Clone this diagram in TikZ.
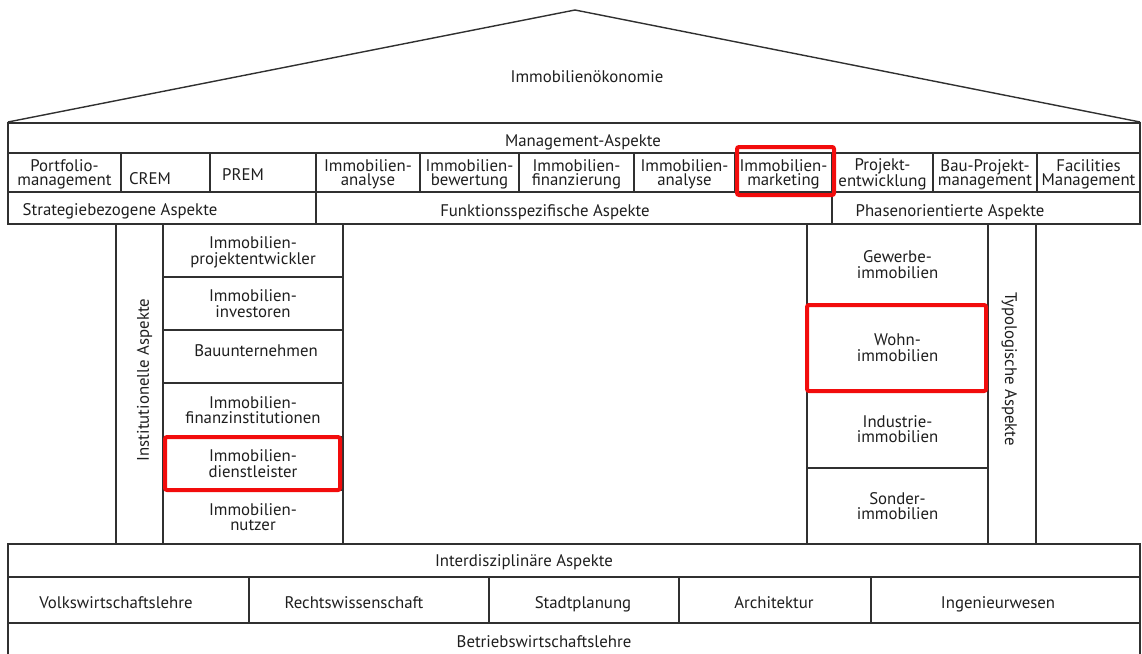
\documentclass[tikz,border=0pt]{standalone}
\usepackage{fontspec}
\setmainfont{PT Sans}
\definecolor{lc}{HTML}{303030}
\definecolor{tc}{HTML}{1E1E1E}
\definecolor{hlred}{HTML}{F20C0C}
\newcommand\fs{\fontsize{16.8}{15.8}\selectfont}
\newcommand\fst{\fontsize{16.8}{14.6}\selectfont}
\newcommand\boxat[7][cellbx]{\node[#1, minimum width={(#5-#3)*1pt}, minimum height={(#6-#4)*1pt}] (#2) at ({(#3+#5)/2},{(#4+#6)/2}) {#7};}
\begin{document}
\begin{tikzpicture}[x=1pt,y=-1pt,
  ln/.style={draw=lc, line width=1.4pt},
  cellbx/.style={ln, inner sep=0pt, outer sep=0pt, align=center, text=tc, font=\fs, text depth=0pt},
  topcell/.style={cellbx, font=\fst},
  txt/.style={inner sep=0pt, align=center, text=tc, font=\fs, text depth=0pt},
  hl/.style={draw=hlred, line width=4pt, rounded corners=2pt, inner sep=0pt, outer sep=0pt}]
\useasboundingbox (0,0) rectangle (1142,653);
% roof
\coordinate (rl) at (8,122);
\coordinate (ra) at (575,10);
\coordinate (rr) at (1140,122);
\draw[ln, line join=miter] (rl) -- (ra) -- (rr);
\node[txt] (roof) at (587,77) {Immobilienökonomie};
% management band
\boxat{mgmt}{8}{123}{1140}{153}{}
\node[txt] (mgmtT) at (583,141) {Management-Aspekte};
\boxat[topcell]{c1}{8}{153}{121}{192}{Portfolio-\\management}
\boxat{c2}{121}{153}{210}{192}{}
\node[txt] (c2T) at (150,179) {CREM};
\boxat{c3}{210}{153}{316}{192}{}
\node[txt] (c3T) at (243,175) {PREM};
\boxat[topcell]{c4}{316}{153}{420}{192}{Immobilien-\\analyse}
\boxat[topcell]{c5}{420}{153}{519}{192}{Immobilien-\\bewertung}
\boxat[topcell]{c6}{519}{153}{634}{192}{Immobilien-\\finanzierung}
\boxat[topcell]{c7}{634}{153}{735}{192}{Immobilien-\\analyse}
\boxat[topcell]{c8}{735}{153}{832}{192}{Immobilien-\\marketing}
\boxat[topcell]{c9}{832}{153}{933}{192}{Projekt-\\entwicklung}
\boxat[topcell]{c10}{933}{153}{1037}{192}{Bau-Projekt-\\management}
\boxat[topcell]{c11}{1037}{153}{1140}{192}{Facilities\\Management}
% aspect row
\boxat{a1}{8}{192}{316}{224}{}
\node[txt] (a1T) at (120,210) {Strategiebezogene Aspekte};
\boxat{a2}{316}{192}{832}{224}{}
\node[txt] (a2T) at (545,211) {Funktionsspezifische Aspekte};
\boxat{a3}{832}{192}{1140}{224}{}
\node[txt] (a3T) at (950,211) {Phasenorientierte Aspekte};
% left pillar
\boxat{ip}{116}{224}{163}{544}{}
\node[txt, rotate=90] (ipT) at (143,380) {Institutionelle Aspekte};
\boxat{l1}{163}{224}{343}{277}{Immobilien-\\projektentwickler}
\boxat{l2}{163}{277}{343}{330}{Immobilien-\\investoren}
\boxat{l3}{163}{330}{343}{383}{}
\node[txt] (l3T) at (256,351) {Bauunternehmen};
\boxat{l4}{163}{383}{343}{437}{Immobilien-\\finanzinstitutionen}
\boxat{l5}{163}{437}{343}{490}{Immobilien-\\dienstleister}
\boxat{l6}{163}{490}{343}{544}{Immobilien-\\nutzer}
% right pillar
\boxat{r1}{807}{224}{988}{305}{Gewerbe-\\immobilien}
\boxat{r2}{807}{305}{988}{390}{Wohn-\\immobilien}
\boxat{r3}{807}{390}{988}{468}{Industrie-\\immobilien}
\boxat{r4}{807}{468}{988}{544}{Sonder-\\immobilien}
\boxat{tp}{988}{224}{1036}{544}{}
\node[txt, rotate=-90] (tpT) at (1011,369) {Typologische Aspekte};
% bottom
\boxat{inter}{8}{544}{1140}{577}{}
\node[txt] (interT) at (524,561) {Interdisziplinäre Aspekte};
\boxat{b1}{8}{577}{249}{623}{}
\node[txt] (b1T) at (116,602.5) {Volkswirtschaftslehre};
\boxat{b2}{249}{577}{489}{623}{}
\node[txt] (b2T) at (354,602.5) {Rechtswissenschaft};
\boxat{b3}{489}{577}{679}{623}{}
\node[txt] (b3T) at (583,602.5) {Stadtplanung};
\boxat{b4}{679}{577}{871}{623}{}
\node[txt] (b4T) at (774,602.5) {Architektur};
\boxat{b5}{871}{577}{1140}{623}{}
\node[txt] (b5T) at (998,602.5) {Ingenieurwesen};
\coordinate (bwl1) at (8,656);
\coordinate (bwl2) at (1140,656);
\draw[ln] (bwl1) -- (8,623) -- (1140,623) -- (bwl2);
\node[txt] (bwlT) at (544,642) {Betriebswirtschaftslehre};
% highlights
\boxat[hl]{hl1}{737}{147}{834}{195}{}
\boxat[hl]{hl2}{165}{437}{340}{490}{}
\boxat[hl]{hl3}{807}{305}{986}{391}{}
\end{tikzpicture}
\end{document}
